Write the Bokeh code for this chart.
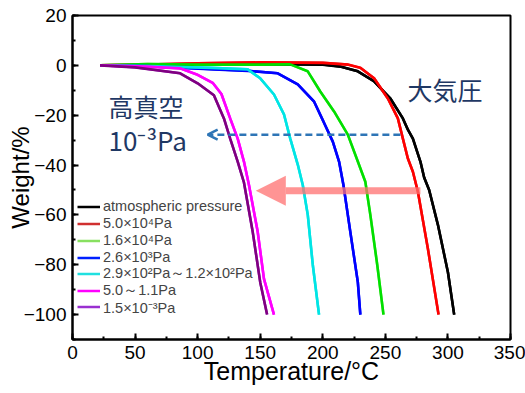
from bokeh.plotting import figure
from bokeh.models import (SingleIntervalTicker, Legend, LegendItem, Arrow, OpenHead,
                          NormalHead, Label)
from bokeh.embed import file_html
from bokeh.resources import INLINE

# ---------------- data ----------------
labels = ["atmospheric pressure", "5.0×10⁴Pa", "1.6×10⁴Pa", "2.6×10³Pa",
          "2.9×10²Pa～1.2×10²Pa", "5.0～1.1Pa", "1.5×10⁻³Pa"]

atm_t = [22, 60, 100, 150, 200, 214, 228, 241, 254, 264, 268, 272, 278, 281, 285, 292, 300, 305]
atm_w = [0, -0.3, 0.3, 0.5, 0.3, -0.5, -2.4, -6.4, -13.3, -21.3, -25.8, -29.4, -38.6, -45, -50, -64, -83, -100]

p50k_t = [22, 60, 100, 150, 200, 220, 230, 241, 252, 260, 264, 268, 272, 276, 284, 292.5]
p50k_w = [0, 0.3, 0.8, 1.2, 1.0, 0.3, -1.0, -5.2, -13.3, -21.3, -29.4, -37.4, -42.7, -50.7, -73.6, -100]

p16k_t = [22, 60, 100, 150, 174, 188, 198, 209, 220, 228, 234, 238, 243.5, 248.5]
p16k_w = [0, 0.5, 0.3, 0.3, 0.4, -2.4, -10.5, -18.5, -27.8, -38.6, -46.7, -60, -80, -100]

p26h_t = [22, 60, 113, 140, 164, 180, 193, 200.5, 208, 213, 216.5, 222, 228, 230]
p26h_w = [0, -0.3, -1.6, -2.2, -3.2, -7.6, -14.5, -22.5, -30.6, -38.6, -48, -66.8, -87, -100]

p29_t = [22, 60, 110, 140, 150, 161, 169, 174, 180, 184, 188, 192, 197]
p29_w = [0, -0.3, -1.0, -1.6, -5.2, -11.7, -19.7, -29.4, -39.8, -48, -60, -80, -100]

p5_t = [22, 60, 86, 100, 112, 119, 126, 132, 137, 141, 148, 153, 161]
p5_w = [0, -0.5, -1.2, -3.8, -7.0, -11.5, -21.3, -29.4, -38.6, -48, -66.8, -85.7, -100]

p15m_t = [22, 50, 86, 100, 113, 121, 126, 132, 137, 144, 150, 155.5]
p15m_w = [0, -0.8, -3.2, -7.2, -12, -21.3, -29.4, -38.6, -47, -66.8, -87, -100]

series_t = [atm_t, p50k_t, p16k_t, p26h_t, p29_t, p5_t, p15m_t]
series_w = [atm_w, p50k_w, p16k_w, p26h_w, p29_w, p5_w, p15m_w]

line_colors = ["#000000", "#ff0000", "#00e000", "#0000ff", "#00e5e5", "#ff00ff", "#800080"]
legend_colors = ["#000000", "#d03030", "#88e060", "#0020ff", "#20e0e0", "#ff00ff", "#9a30d0"]

# ---------------- figure ----------------
p = figure(frame_width=438, frame_height=324, x_range=(0, 350), y_range=(-110, 20),
           output_backend="svg", toolbar_location=None,
           min_border_left=72, min_border_right=15, min_border_top=15, min_border_bottom=54)
p.grid.visible = False
p.outline_line_color = "black"
p.outline_line_width = 2
p.background_fill_color = "white"
p.border_fill_color = "white"

p.xaxis.ticker = SingleIntervalTicker(interval=50, num_minor_ticks=2)
p.yaxis.ticker = SingleIntervalTicker(interval=20, num_minor_ticks=2)
for ax in (p.xaxis, p.yaxis):
    ax.axis_line_width = 2
    ax.major_tick_in = 6
    ax.major_tick_out = 0
    ax.minor_tick_in = 3
    ax.minor_tick_out = 0
    ax.major_tick_line_width = 2
    ax.minor_tick_line_width = 2
    ax.major_label_text_font = "Liberation Sans"
    ax.major_label_text_font_size = "19px"
    ax.major_label_text_color = "black"
    ax.axis_label_text_font = "Liberation Sans"
    ax.axis_label_text_font_style = "normal"
    ax.axis_label_text_color = "black"
p.xaxis.axis_label = "Temperature/°C"
p.xaxis.axis_label_text_font_size = "25px"
p.xaxis.axis_label_standoff = -5
p.xaxis.major_label_standoff = 6
p.yaxis.axis_label = "Weight/%"
p.yaxis.axis_label_text_font_size = "24px"
p.yaxis.axis_label_standoff = -13
p.yaxis.major_label_standoff = 6

# legend swatch renderers (same paths, drawn underneath the curves)
swatch_renderers = []
for t, w, c in zip(series_t, series_w, legend_colors):
    swatch_renderers.append(p.line(t, w, line_color=c, line_width=2.5))

for t, w, c in zip(series_t, series_w, line_colors):
    p.line(t, w, line_color=c, line_width=2.6)

# one single-row legend per entry, so that every row is exactly 17 px apart
ROW = 17
n = len(labels)
for i, (lab, r) in enumerate(zip(labels, swatch_renderers)):
    lg = Legend(items=[LegendItem(label=lab, renderers=[r])],
                location=(5, 22.5 + ROW * (n - 1 - i)), padding=0, margin=0, spacing=0,
                label_height=ROW, glyph_height=ROW, glyph_width=23, label_standoff=3,
                label_text_font="Liberation Sans", label_text_font_size="14.5px",
                label_text_line_height=1.0, label_text_baseline="middle",
                border_line_color=None, background_fill_alpha=0)
    p.add_layout(lg, "center")

# arrows
p.add_layout(Arrow(x_start=262, y_start=-27.8, x_end=108, y_end=-27.8,
                   line_color="#2e75b6", line_width=2.5, line_dash="7 4",
                   end=OpenHead(size=10, line_color="#2e75b6", line_width=2.5)))
p.add_layout(Arrow(x_start=278, y_start=-50.3, x_end=146.5, y_end=-50.3,
                   line_color="#ff7070", line_alpha=0.75, line_width=7,
                   end=NormalHead(size=30, fill_color="#ff7070", fill_alpha=0.75,
                                  line_color=None)))

# annotation texts
navy = "#1f3864"
p.add_layout(Label(x=28.8, y=-16.3, text="高真空", text_font="Noto Sans CJK JP",
                   text_font_size="25px", text_color=navy, text_baseline="middle"))
p.add_layout(Label(x=28.8, y=-29.8, text="10⁻³Pa", text_font="Noto Sans CJK JP",
                   text_font_size="26px", text_color=navy, text_baseline="middle"))
p.add_layout(Label(x=267.7, y=-9.5, text="大気圧", text_font="Noto Sans CJK JP",
                   text_font_size="25px", text_color=navy, text_baseline="middle"))

open("out.html", "w").write(file_html(p, INLINE))
